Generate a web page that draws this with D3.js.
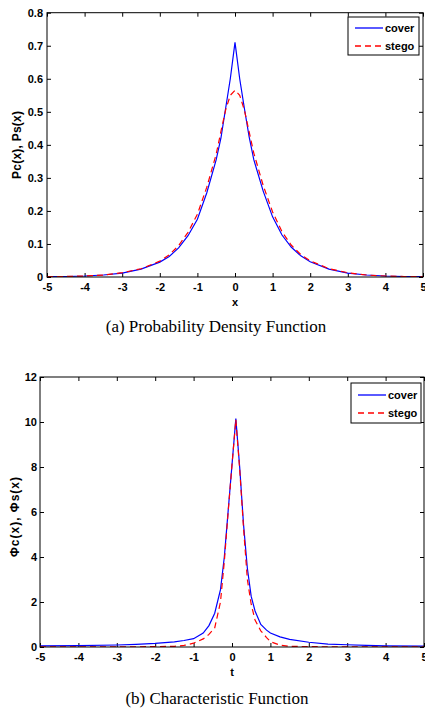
<!DOCTYPE html>
<html>
<head>
<meta charset="utf-8">
<script src="https://cdn.jsdelivr.net/npm/d3@7"></script>
<style>
    body { margin: 0; background: #fff; }
    svg text { font-family: "Liberation Sans", Arial, sans-serif; font-weight: bold; font-size: 11px; fill: #000; }
    svg text.caption { font-family: "Liberation Serif", "Times New Roman", serif; font-weight: normal; font-size: 17px; }
</style>
</head>
<body>
<svg width="425" height="713"></svg>
<script>
// (a) probability density
var pdfX = [-5, -4.5, -4, -3.5, -3, -2.5, -2, -1.75, -1.5, -1.25, -1, -0.75, -0.5, -0.375, -0.25, -0.125,
    0, 0.125, 0.25, 0.375, 0.5, 0.75, 1, 1.25, 1.5, 1.75, 2, 2.5, 3, 3.5, 4, 4.5, 5];
var pdfCover = [0.001, 0.0015, 0.003, 0.006, 0.012, 0.024, 0.045, 0.062, 0.088, 0.125, 0.175, 0.255, 0.355, 0.42, 0.51, 0.6,
    0.71, 0.6, 0.51, 0.425, 0.355, 0.26, 0.182, 0.127, 0.09, 0.064, 0.046, 0.024, 0.012, 0.006, 0.003, 0.0015, 0.001];
var pdfStego = [0.001, 0.0015, 0.003, 0.006, 0.013, 0.025, 0.048, 0.067, 0.095, 0.135, 0.19, 0.272, 0.372, 0.44, 0.505, 0.55,
    0.565, 0.55, 0.505, 0.44, 0.375, 0.277, 0.197, 0.137, 0.096, 0.068, 0.049, 0.025, 0.013, 0.006, 0.003, 0.0015, 0.001];
var pdfXTicks = [-5, -4, -3, -2, -1, 0, 1, 2, 3, 4, 5];
var pdfYTicks = [0, 0.1, 0.2, 0.3, 0.4, 0.5, 0.6, 0.7, 0.8];

// (b) characteristic function
var cfX = [-5, -4, -3, -2.5, -2, -1.5, -1.25, -1, -0.75, -0.6, -0.45, -0.3, -0.2, -0.1,
    0, 0.1, 0.2, 0.3, 0.4, 0.5, 0.6, 0.75, 0.9, 1, 1.25, 1.5, 2, 2.5, 3, 3.5, 4, 5];
var cfCover = [0.05, 0.06, 0.09, 0.12, 0.16, 0.23, 0.29, 0.37, 0.62, 0.95, 1.5, 2.55, 4.0, 6.05,
    8.1, 10.15, 8.0, 5.45, 3.5, 2.25, 1.6, 1.0, 0.75, 0.62, 0.45, 0.34, 0.21, 0.13, 0.1, 0.07, 0.05, 0.04];
var cfStego = [0.01, 0.01, 0.01, 0.01, 0.015, 0.03, 0.07, 0.17, 0.36, 0.56, 0.85, 2.0, 3.8, 6.0,
    8.1, 10.1, 7.9, 5.3, 3.0, 1.9, 1.2, 0.72, 0.42, 0.24, 0.08, 0.03, 0.015, 0.01, 0.01, 0.01, 0.01, 0.01];
var cfXTicks = [-5, -4, -3, -2, -1, 0, 1, 2, 3, 4, 5];
var cfYTicks = [0, 2, 4, 6, 8, 10, 12];

var seriesNames = ["cover", "stego"];
var seriesColors = ["#0000ff", "#ff0000"];
var seriesDash = [null, "6,4"];

var svg = d3.select("svg");

function drawPanel(p, idx) {
    var x = d3.scaleLinear().domain([-5, 5]).range([p.left, p.right]);
    var y = d3.scaleLinear().domain(p.yDomain).range([p.bottom, p.top]);
    var g = svg.append("g");
    var fmt = function (d) { return String(d); };
    var none = function () { return ""; };

    g.append("clipPath").attr("id", "clip" + idx)
        .append("rect")
        .attr("x", p.left).attr("y", p.top)
        .attr("width", p.right - p.left).attr("height", p.bottom - p.top);

    // axes: ticks point into the box, labels only on left / bottom
    g.append("g").attr("transform", "translate(0," + p.bottom + ")")
        .call(d3.axisBottom(x).tickValues(p.xTicks).tickFormat(fmt).tickSizeInner(-4).tickSizeOuter(0).tickPadding(p.padX));
    g.append("g").attr("transform", "translate(0," + p.top + ")")
        .call(d3.axisTop(x).tickValues(p.xTicks).tickFormat(none).tickSizeInner(-4).tickSizeOuter(0));
    g.append("g").attr("transform", "translate(" + p.left + ",0)")
        .call(d3.axisLeft(y).tickValues(p.yTicks).tickFormat(fmt).tickSizeInner(-4).tickSizeOuter(0).tickPadding(p.padY));
    g.append("g").attr("transform", "translate(" + p.right + ",0)")
        .call(d3.axisRight(y).tickValues(p.yTicks).tickFormat(none).tickSizeInner(-4).tickSizeOuter(0));
    g.selectAll(".domain").remove();
    g.selectAll(".tick line").attr("stroke", "#000");
    g.selectAll(".tick text").style("font-size", "11px").attr("fill", "#000");

    var line = d3.line()
        .x(function (d) { return x(d[0]); })
        .y(function (d) { return y(d[1]); });
    [p.cover, p.stego].forEach(function (vals, i) {
        g.append("path")
            .datum(p.xs.map(function (v, j) { return [v, vals[j]]; }))
            .attr("clip-path", "url(#clip" + idx + ")")
            .attr("fill", "none")
            .attr("stroke", seriesColors[i])
            .attr("stroke-width", 1.2)
            .attr("stroke-dasharray", seriesDash[i])
            .attr("d", line);
    });

    g.append("rect")
        .attr("x", p.left).attr("y", p.top)
        .attr("width", p.right - p.left).attr("height", p.bottom - p.top)
        .attr("fill", "none").attr("stroke", "#000").attr("stroke-width", 1);

    // legend
    var lg = g.append("g").attr("transform", "translate(" + Math.round(p.legend.x) + "," + Math.round(p.legend.y) + ")");
    lg.append("rect")
        .attr("width", p.legend.w).attr("height", p.legend.h)
        .attr("fill", "#fff").attr("stroke", "#000").attr("stroke-width", 1);
    seriesNames.forEach(function (name, i) {
        var ly = Math.round(p.legend.h * (0.3 + 0.45 * i));
        lg.append("line")
            .attr("x1", 7).attr("x2", 35).attr("y1", ly).attr("y2", ly)
            .attr("stroke", seriesColors[i]).attr("stroke-width", 1.3)
            .attr("stroke-dasharray", seriesDash[i]);
        lg.append("text").attr("x", 37).attr("y", ly + 4).text(name);
    });

    g.append("text")
        .attr("x", x(0)).attr("y", p.xLabelY)
        .attr("text-anchor", "middle")
        .text(p.xLabel);
    g.append("text")
        .attr("transform", "translate(" + p.yLabelX + "," + p.yLabelY + ") rotate(-90)")
        .attr("text-anchor", "middle")
        .attr("textLength", p.yLabelLen).attr("lengthAdjust", "spacing")
        .style("font-size", "12px")
        .text(p.yLabel);
    g.append("text").classed("caption", true)
        .attr("x", p.captionX).attr("y", p.captionY)
        .attr("text-anchor", "middle")
        .text(p.caption);
}

var panels = [
    {
        xs: pdfX, cover: pdfCover, stego: pdfStego, xTicks: pdfXTicks, yTicks: pdfYTicks, yDomain: [0, 0.8],
        left: 47, right: 423, top: 12.7, bottom: 277, padX: 6, padY: 4,
        legend: { x: 348, y: 17, w: 71, h: 38 },
        xLabel: "x", xLabelY: 306, yLabel: "Pc(x), Ps(x)", yLabelX: 21, yLabelY: 145, yLabelLen: 68,
        caption: "(a) Probability Density Function", captionX: 216, captionY: 332
    },
    {
        xs: cfX, cover: cfCover, stego: cfStego, xTicks: cfXTicks, yTicks: cfYTicks, yDomain: [0, 12],
        left: 40, right: 424, top: 377, bottom: 647, padX: 6.5, padY: 3,
        legend: { x: 351, y: 383, w: 70, h: 40 },
        xLabel: "t", xLabelY: 676, yLabel: "\u03a6c(x), \u03a6s(x)", yLabelX: 19, yLabelY: 517, yLabelLen: 80,
        caption: "(b) Characteristic Function", captionX: 217, captionY: 704
    }
];
panels.forEach(drawPanel);
</script>
</body>
</html>
